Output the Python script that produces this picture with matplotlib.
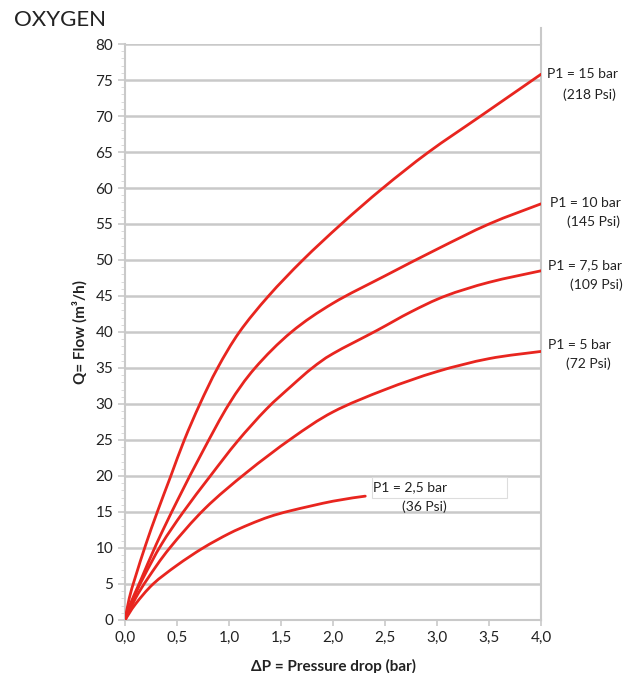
import matplotlib.pyplot as plt
from matplotlib.patches import Rectangle, PathPatch
from matplotlib.path import Path

# curves: delta P (bar) -> Q (m3/h)
x15 = [0, 0.04, 0.10, 0.20, 0.31, 0.44, 0.57, 0.72, 0.89, 1.10, 1.38, 1.71, 2.08, 2.48, 2.92, 3.42, 4.0]
q15 = [0, 3.0, 6.0, 10.5, 15, 20, 25, 30, 35, 40, 45, 50, 55, 60, 65, 70, 75.8]

x10 = [0, 0.05, 0.15, 0.30, 0.50, 0.75, 1.0, 1.25, 1.60, 2.0, 2.5, 3.0, 3.5, 4.0]
q10 = [0, 2.2, 5.5, 10.5, 16.5, 23.5, 30, 35, 40, 44, 47.8, 51.5, 55, 57.8]

x75 = [0, 0.08, 0.18, 0.35, 0.56, 0.82, 1.08, 1.36, 1.6, 1.8, 2.0, 2.42, 2.75, 3.08, 3.5, 4.0]
q75 = [0, 3.0, 6.0, 10.5, 15, 20, 24.8, 29.3, 32.5, 35, 37.0, 40.2, 42.8, 45, 46.9, 48.5]

x5 = [0, 0.10, 0.22, 0.43, 0.77, 1.17, 1.6, 2.0, 2.5, 3.0, 3.5, 4.0]
q5 = [0, 3.0, 5.8, 10, 15.5, 20.5, 25.2, 28.9, 32.0, 34.5, 36.3, 37.3]

x25 = [0, 0.1, 0.27, 0.5, 0.75, 1.0, 1.2, 1.39, 1.6, 2.0, 2.31]
q25 = [0, 2.2, 5, 7.6, 10, 12.0, 13.3, 14.35, 15.2, 16.5, 17.2]

labels = [("P1 = 15 bar", "(218 Psi)", 4.055, 75.9, 4.21, 73.0),
          ("P1 = 10 bar", "(145 Psi)", 4.09, 57.9, 4.25, 55.3),
          ("P1 = 7,5 bar", "(109 Psi)", 4.07, 49.3, 4.28, 46.5),
          ("P1 = 5 bar", "(72 Psi)", 4.07, 38.2, 4.24, 35.6),
          ("P1 = 2,5 bar", "(36 Psi)", 2.38, 18.5, 2.66, 15.7)]

plt.rcParams['font.family'] = ['Lato', 'DejaVu Sans']
red = '#e8251f'
grey = '#c9c9c9'
txt = '#222222'


def smooth_path(xs, ys):
    # smoothed line through the read points (bezier segments, like a spreadsheet "smooth line")
    pts = list(zip(xs, ys))
    n = len(pts)
    verts = [pts[0]]
    codes = [Path.MOVETO]
    for i in range(n - 1):
        p0 = pts[i - 1] if i > 0 else pts[i]
        p1 = pts[i]
        p2 = pts[i + 1]
        p3 = pts[i + 2] if i + 2 < n else pts[i + 1]
        c1 = (p1[0] + (p2[0] - p0[0]) / 6, p1[1] + (p2[1] - p0[1]) / 6)
        c2 = (p2[0] - (p3[0] - p1[0]) / 6, p2[1] - (p3[1] - p1[1]) / 6)
        verts += [c1, c2, p2]
        codes += [Path.CURVE4] * 3
    return Path(verts, codes)


fig = plt.figure(figsize=(6.38, 6.73), dpi=100)
ax = fig.add_axes([0.196, 0.0788, 0.652, 0.8558])

for y in range(0, 81, 5):
    ax.axhline(y, color=grey, lw=1.8, zorder=1)

for xs, qs in [(x15, q15), (x10, q10), (x75, q75), (x5, q5), (x25, q25)]:
    ax.add_patch(PathPatch(smooth_path(xs, qs), fill=False, edgecolor=red,
                           lw=2.0, capstyle='round', joinstyle='round', zorder=3))

ax.add_patch(Rectangle((2.37, 16.9), 1.3, 3.0, facecolor='white',
                       edgecolor='#dddddd', lw=0.8, zorder=4))

for l1, l2, x1, y1, x2, y2 in labels:
    ax.text(x1, y1, l1, fontsize=10, color=txt, va='center', ha='left', zorder=5, clip_on=False)
    ax.text(x2, y2, l2, fontsize=10, color=txt, va='center', ha='left', zorder=5, clip_on=False)

ax.set_xlim(0, 4.0)
ax.set_ylim(0, 80)
ax.set_xticks([i * 0.5 for i in range(9)])
ax.set_xticklabels([('%.1f' % (i * 0.5)).replace('.', ',') for i in range(9)])
ax.set_yticks(range(0, 81, 5))
ax.set_yticks(range(0, 81), minor=True)
ax.tick_params(axis='both', labelsize=11, labelcolor=txt, color=grey, width=1.2)
ax.tick_params(axis='y', which='major', length=5)
ax.tick_params(axis='y', which='minor', length=3, color='#d5d5d5')
ax.tick_params(axis='x', length=4, pad=4)

ax.spines['top'].set_visible(False)
for s in ['left', 'bottom', 'right']:
    ax.spines[s].set_color(grey)
    ax.spines[s].set_linewidth(1.5)
ax.plot([1, 1], [1, 1.028], transform=ax.transAxes, color=grey, lw=1.5, clip_on=False)

ax.set_xlabel('ΔP = Pressure drop (bar)', fontsize=11, fontweight='bold', color=txt, labelpad=10)
ax.set_ylabel('Q= Flow (m³/h)', fontsize=11, fontweight='bold', color=txt, labelpad=6)

fig.text(0.022, 0.97, 'OXYGEN', fontsize=16, color=txt, va='center', ha='left')

fig.savefig('out.png', dpi=100)
